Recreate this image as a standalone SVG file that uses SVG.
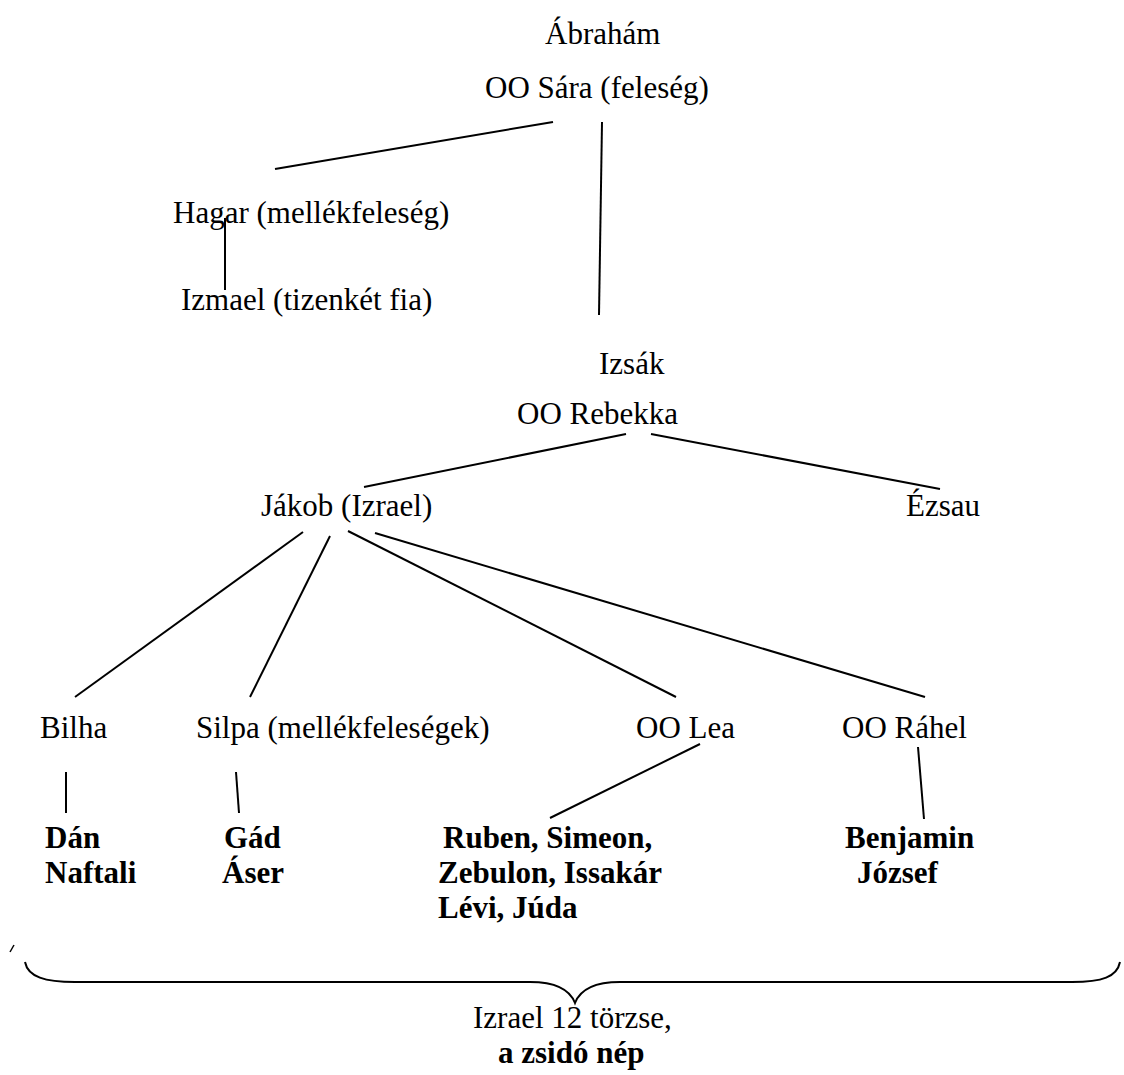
<svg xmlns="http://www.w3.org/2000/svg" width="1124" height="1075" viewBox="0 0 1124 1075">
<rect width="1124" height="1075" fill="#fff"/>
<g id="abraham"><text x="545" y="44" font-family="Liberation Serif" font-size="31">Ábrahám</text><text x="485" y="98" font-family="Liberation Serif" font-size="31">OO Sára (feleség)</text></g>
<g id="hagar"><text x="173" y="223" font-family="Liberation Serif" font-size="31">Hagar (mellékfeleség)</text></g>
<g id="izmael"><text x="181" y="310" font-family="Liberation Serif" font-size="31">Izmael (tizenkét fia)</text></g>
<g id="izsak"><text x="599" y="374" font-family="Liberation Serif" font-size="31">Izsák</text><text x="517" y="424" font-family="Liberation Serif" font-size="31">OO Rebekka</text></g>
<g id="jakob"><text x="261" y="516" font-family="Liberation Serif" font-size="31">Jákob (Izrael)</text></g>
<g id="ezsau"><text x="906" y="516" font-family="Liberation Serif" font-size="31">Ézsau</text></g>
<g id="bilha"><text x="40" y="738" font-family="Liberation Serif" font-size="31">Bilha</text></g>
<g id="silpa"><text x="196" y="738" font-family="Liberation Serif" font-size="31">Silpa (mellékfeleségek)</text></g>
<g id="lea"><text x="636" y="738" font-family="Liberation Serif" font-size="31">OO Lea</text></g>
<g id="rahel"><text x="842" y="738" font-family="Liberation Serif" font-size="31">OO Ráhel</text></g>
<g id="bilha-sons"><text x="45" y="848" font-family="Liberation Serif" font-size="31" font-weight="bold">Dán</text><text x="45" y="883" font-family="Liberation Serif" font-size="31" font-weight="bold">Naftali</text></g>
<g id="silpa-sons"><text x="224" y="848" font-family="Liberation Serif" font-size="31" font-weight="bold">Gád</text><text x="222" y="883" font-family="Liberation Serif" font-size="31" font-weight="bold">Áser</text></g>
<g id="lea-sons"><text x="443" y="848" font-family="Liberation Serif" font-size="31" font-weight="bold">Ruben, Simeon,</text><text x="438" y="883" font-family="Liberation Serif" font-size="31" font-weight="bold">Zebulon, Issakár</text><text x="438" y="918" font-family="Liberation Serif" font-size="31" font-weight="bold">Lévi, Júda</text></g>
<g id="rahel-sons"><text x="845" y="848" font-family="Liberation Serif" font-size="31" font-weight="bold">Benjamin</text><text x="857" y="883" font-family="Liberation Serif" font-size="31" font-weight="bold">József</text></g>
<g id="tribes"><text x="473" y="1028" font-family="Liberation Serif" font-size="31">Izrael 12 törzse,</text><text x="498" y="1063" font-family="Liberation Serif" font-size="31" font-weight="bold">a zsidó nép</text></g>
<g id="connectors" stroke="#000" stroke-width="2" fill="none">
  <line x1="553" y1="122" x2="275" y2="169"/>
  <line x1="602" y1="122" x2="599" y2="315"/>
  <line x1="225" y1="218" x2="225" y2="290"/>
  <line x1="626" y1="434" x2="364" y2="487"/>
  <line x1="651" y1="434" x2="940" y2="489"/>
  <line x1="303" y1="532" x2="75" y2="697"/>
  <line x1="330" y1="536" x2="250" y2="697"/>
  <line x1="348" y1="531" x2="676" y2="697"/>
  <line x1="375" y1="533" x2="925" y2="697"/>
  <line x1="66" y1="772" x2="66" y2="813"/>
  <line x1="236" y1="772" x2="239" y2="813"/>
  <line x1="700" y1="744" x2="550" y2="818"/>
  <line x1="918" y1="747" x2="924" y2="819"/>
</g>
<g id="brace" stroke="#000" stroke-width="2" fill="none">
  <line x1="10" y1="952" x2="14" y2="945" stroke-width="1.5"/>
  <path d="M25 962 C28 977 45 982 75 982 L530 982 C556 982 570 990 575 1003 C580 990 594 982 620 982 L1072 982 C1102 982 1117 977 1120 962"/>
</g>
</svg>
